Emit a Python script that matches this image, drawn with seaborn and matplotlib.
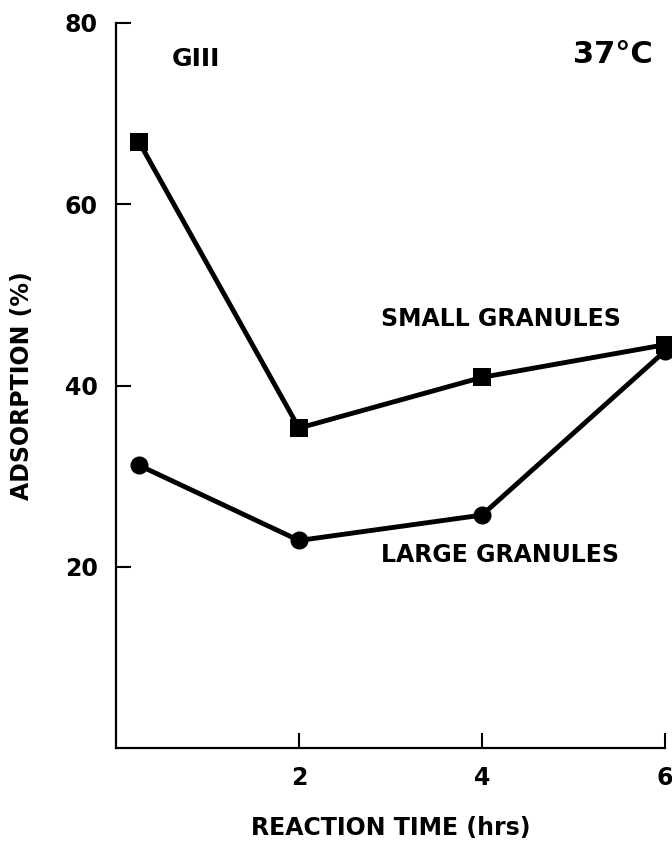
import matplotlib
matplotlib.use("Agg")
import matplotlib.pyplot as plt
import seaborn as sns
import pandas as pd

# Data
time_hrs = [0.25, 2, 4, 6]
small_granules = [66.9, 35.3, 40.9, 44.5]
large_granules = [31.2, 22.9, 25.7, 43.8]
series_names = ["SMALL GRANULES", "LARGE GRANULES"]
x_ticks = [2, 4, 6]
y_ticks = [20, 40, 60, 80]

sns.set_theme(style="ticks")
plt.rcParams["font.family"] = ["DejaVu Sans"]
plt.rcParams["font.weight"] = "bold"
for key in ["text.color", "axes.labelcolor", "xtick.color", "ytick.color", "axes.edgecolor"]:
    plt.rcParams[key] = "black"

df = pd.DataFrame({
    "time": time_hrs * 2,
    "adsorption": small_granules + large_granules,
    "series": [series_names[0]] * 4 + [series_names[1]] * 4,
})

fig = plt.figure(figsize=(6.72, 8.43), dpi=100)
ax = fig.add_axes([116 / 672, 1 - 748 / 843, (665 - 116) / 672, (748 - 23) / 843])

sns.lineplot(
    data=df, x="time", y="adsorption", style="series", hue="series",
    palette={series_names[0]: "black", series_names[1]: "black"},
    markers={series_names[0]: "s", series_names[1]: "o"},
    dashes=False, linewidth=3.5, markersize=13, markeredgewidth=0,
    legend=False, ax=ax, clip_on=False,
)

ax.set_xlim(0, 6)
ax.set_ylim(0, 80)
ax.set_xticks(x_ticks)
ax.set_yticks(y_ticks)
ax.tick_params(direction="in", length=11, width=1.5, labelsize=17, pad=13, colors="black")
for lab in ax.get_xticklabels() + ax.get_yticklabels():
    lab.set_fontweight("bold")
for s in ["top", "right"]:
    ax.spines[s].set_visible(False)
for s in ["left", "bottom"]:
    ax.spines[s].set_linewidth(1.6)
    ax.spines[s].set_color("black")

fs = 17
ax.set_xlabel("REACTION TIME (hrs)", fontsize=fs, fontweight="bold", labelpad=19)
ax.set_ylabel("ADSORPTION (%)", fontsize=fs, fontweight="bold", labelpad=22)

ax.text(0.61, 76.0, "GIII", fontsize=18, fontweight="bold", ha="left", va="center")
ax.text(5.87, 76.5, "37°C", fontsize=22, fontweight="bold", ha="right", va="center")
ax.text(2.9, 47.3, "SMALL GRANULES", fontsize=fs, fontweight="bold", ha="left", va="center")
ax.text(2.9, 21.25, "LARGE GRANULES", fontsize=fs, fontweight="bold", ha="left", va="center")

fig.savefig("out.png", dpi=100)
